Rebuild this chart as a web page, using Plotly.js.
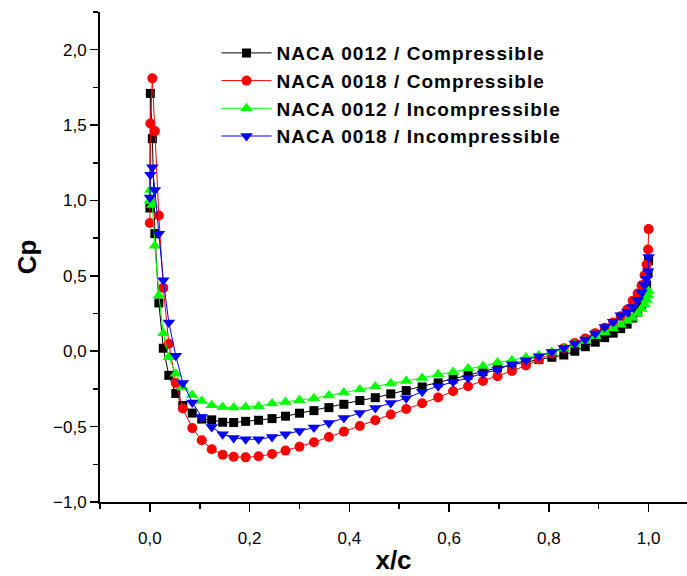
<!DOCTYPE html>
<html>
<head>
<meta charset="utf-8">
<script src="https://cdn.plot.ly/plotly-3.0.1.min.js"></script>
<style>
  html, body { margin: 0; padding: 0; background: #ffffff; }
  #chart { width: 687px; height: 576px; }
  .legendtext { letter-spacing: 1.05px; }
</style>
</head>
<body>
<div id="chart"></div>
<script>
// Chordwise stations x/c (shared by all series)
var xc = [0.0, 0.001, 0.005, 0.010, 0.018, 0.027, 0.038, 0.052, 0.066, 0.085,
          0.104, 0.124, 0.146, 0.168, 0.192, 0.218, 0.245, 0.272, 0.300, 0.329,
          0.359, 0.389, 0.421, 0.452, 0.483, 0.514, 0.546, 0.578, 0.608, 0.638,
          0.668, 0.697, 0.726, 0.754, 0.780, 0.806, 0.830, 0.852, 0.873, 0.893,
          0.912, 0.929, 0.944, 0.957, 0.968, 0.978, 0.986, 0.992, 0.996, 0.999, 1.0];

// NACA 0012 / Compressible
var cpN12Comp = [0.95, 1.71, 1.41, 0.78, 0.32, 0.02, -0.16, -0.28, -0.36, -0.41,
                 -0.45, -0.455, -0.471, -0.473, -0.465, -0.458, -0.447, -0.431, -0.411, -0.394,
                 -0.374, -0.352, -0.327, -0.308, -0.283, -0.261, -0.237, -0.21, -0.185, -0.16,
                 -0.135, -0.11, -0.09, -0.07, -0.055, -0.04, -0.025, 0.0, 0.03, 0.06,
                 0.09, 0.12, 0.15, 0.18, 0.22, 0.26, 0.31, 0.37, 0.44, 0.52, 0.60];

// NACA 0018 / Compressible
var cpN18Comp = [0.85, 1.51, 1.81, 1.46, 0.90, 0.42, 0.05, -0.21, -0.38, -0.51,
                 -0.59, -0.65, -0.686, -0.70, -0.704, -0.697, -0.682, -0.659, -0.633, -0.604,
                 -0.569, -0.533, -0.496, -0.458, -0.420, -0.383, -0.345, -0.307, -0.265, -0.232,
                 -0.197, -0.166, -0.131, -0.095, -0.055, -0.015, 0.02, 0.055, 0.085, 0.12,
                 0.155, 0.19, 0.232, 0.277, 0.334, 0.383, 0.438, 0.504, 0.575, 0.675, 0.81];

// NACA 0012 / Incompressible
var cpN12Inc = [1.0, 1.07, 0.97, 0.70, 0.37, 0.12, -0.04, -0.15, -0.24, -0.29,
                -0.33, -0.358, -0.370, -0.374, -0.370, -0.365, -0.347, -0.336, -0.325, -0.312,
                -0.294, -0.274, -0.254, -0.234, -0.214, -0.197, -0.177, -0.153, -0.137, -0.115,
                -0.098, -0.075, -0.060, -0.042, -0.027, -0.005, 0.018, 0.044, 0.068, 0.10,
                0.125, 0.15, 0.175, 0.20, 0.22, 0.25, 0.28, 0.31, 0.34, 0.37, 0.40];

// NACA 0018 / Incompressible
var cpN18Inc = [1.02, 1.17, 1.22, 1.07, 0.78, 0.47, 0.19, -0.03, -0.21, -0.34,
                -0.436, -0.502, -0.551, -0.575, -0.584, -0.584, -0.569, -0.551, -0.529, -0.506,
                -0.476, -0.443, -0.410, -0.376, -0.343, -0.312, -0.268, -0.232, -0.204, -0.177,
                -0.148, -0.121, -0.086, -0.060, -0.033, -0.005, 0.022, 0.051, 0.078, 0.117,
                0.161, 0.195, 0.239, 0.26, 0.294, 0.34, 0.39, 0.44, 0.48, 0.53, 0.625];

var seriesNames = ['NACA 0012 / Compressible', 'NACA 0018 / Compressible',
                   'NACA 0012 / Incompressible', 'NACA 0018 / Incompressible'];
var seriesValues = [cpN12Comp, cpN18Comp, cpN12Inc, cpN18Inc];
var seriesColors = ['#000000', '#ff0000', '#00ff00', '#0000ff'];
var seriesSymbols = ['square', 'circle', 'triangle-up', 'triangle-down'];
var seriesSizes = [9, 10, 11, 11];

var traces = seriesValues.map(function (v, i) {
  return {
    type: 'scatter',
    mode: 'lines+markers',
    name: seriesNames[i],
    x: xc,
    y: v,
    line: { color: seriesColors[i], width: 1 },
    marker: { color: seriesColors[i], symbol: seriesSymbols[i], size: seriesSizes[i], line: { width: 0 } }
  };
});

var font = 'Liberation Sans, Arial, sans-serif';

var layout = {
  width: 687,
  height: 576,
  paper_bgcolor: '#ffffff',
  plot_bgcolor: '#ffffff',
  separators: ',.',
  margin: { l: 100, r: 0, t: 12, b: 74 },
  font: { family: font, color: '#000000', size: 17 },
  showlegend: true,
  legend: {
    x: 0.1985, y: 0.955, xanchor: 'left', yanchor: 'top',
    bgcolor: 'rgba(0,0,0,0)', borderwidth: 0,
    font: { family: font, size: 19, color: '#000000', weight: 'bold' },
    itemwidth: 50
  },
  xaxis: {
    range: [-0.1, 1.077],
    tick0: 0, dtick: 0.2, tickformat: '.1f',
    ticks: 'outside', ticklen: 8, tickwidth: 1.5, tickcolor: '#000000',
    ticklabelstandoff: 12,
    minor: { dtick: 0.1, tick0: 0, ticks: 'outside', ticklen: 5, tickwidth: 1.5, tickcolor: '#000000' },
    showline: true, linecolor: '#000000', linewidth: 2, mirror: false,
    showgrid: false, zeroline: false,
    tickfont: { family: font, size: 17, color: '#000000' },
    title: { text: 'x/c', font: { family: font, size: 26, color: '#000000', weight: 'bold' }, standoff: 3 },
    automargin: false
  },
  yaxis: {
    range: [-1.0, 2.25],
    tick0: 0, dtick: 0.5, tickformat: '.1f',
    ticks: 'outside', ticklen: 8, tickwidth: 1.5, tickcolor: '#000000',
    minor: { dtick: 0.25, tick0: 0, ticks: 'outside', ticklen: 5, tickwidth: 1.5, tickcolor: '#000000' },
    showline: true, linecolor: '#000000', linewidth: 2, mirror: false,
    showgrid: false, zeroline: false,
    tickfont: { family: font, size: 17, color: '#000000' },
    title: { text: 'Cp', font: { family: font, size: 26, color: '#000000', weight: 'bold' }, standoff: 9 },
    automargin: false
  }
};

Plotly.newPlot('chart', traces, layout, { displayModeBar: false, staticPlot: true });
</script>
</body>
</html>
